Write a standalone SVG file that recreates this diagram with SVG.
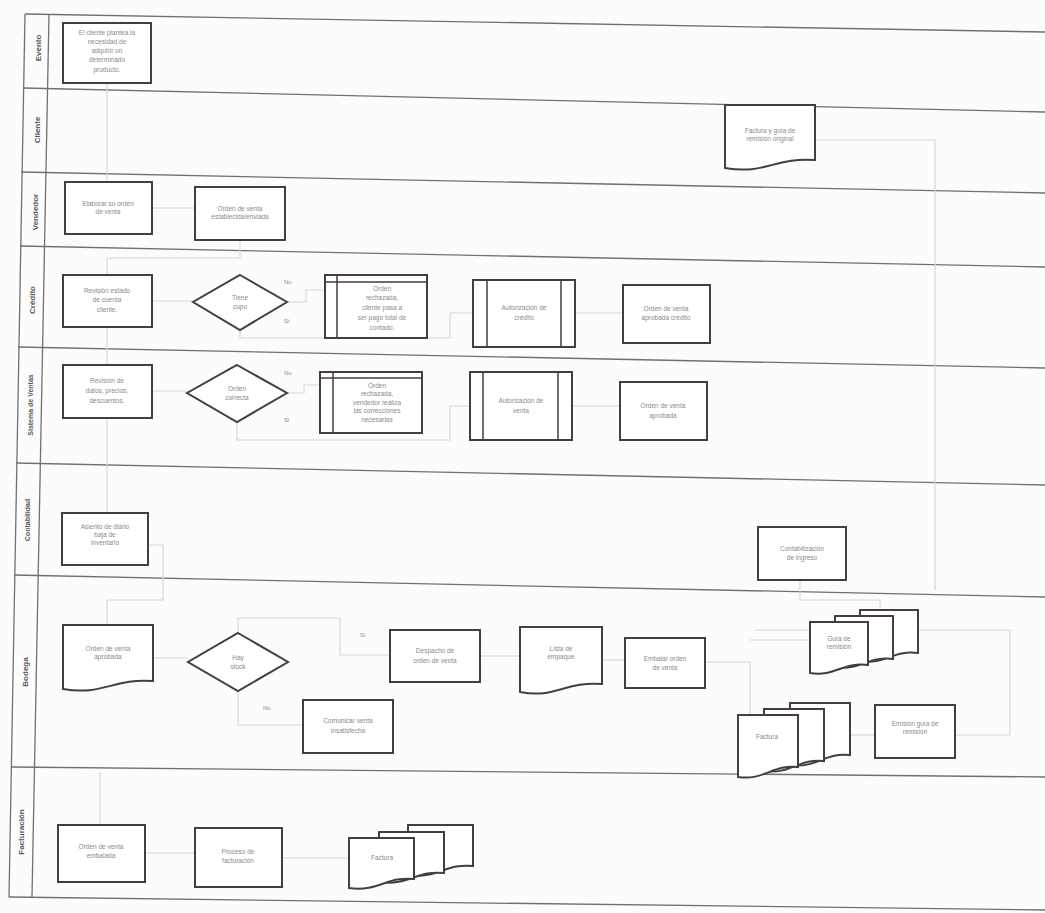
<svg xmlns="http://www.w3.org/2000/svg" xmlns:xlink="http://www.w3.org/1999/xlink" width="1045" height="913" viewBox="0 0 1045 913">
<style>
.lane{fill:none;stroke:#707070;stroke-width:1.3}
.node{fill:#fff;stroke:#463e3e;stroke-width:2}
.thin{fill:none;stroke:#463e3e;stroke-width:1.5}
.t{font-family:"Liberation Sans",Arial,sans-serif;font-size:6.5px;fill:#8a8a8a;text-anchor:middle}
.lbl{font-family:"Liberation Sans",Arial,sans-serif;font-size:8px;fill:#5a5a5a;text-anchor:middle;font-weight:bold}
.conn{fill:none;stroke:#d2d8de;stroke-width:1.2}
.yn{font-family:"Liberation Sans",Arial,sans-serif;font-size:6px;fill:#8a8a8a}
</style>
<defs>
<path id="sheetG" d="M0,0 H58 V43 C32,40 25,55 0,51 Z"/>
<path id="sheetF" d="M0,0 H60 V52 C35,49 26,66 0,62 Z"/>
<path id="sheetH" d="M0,0 H65 V41 C38,38 30,54 0,50 Z"/>
</defs>
<rect x="0" y="0" width="1045" height="913" fill="#fcfcfc"/>

<g id="lanes">
<line class="lane" x1="25" y1="14" x2="1045" y2="32"/>
<line class="lane" x1="23" y1="88" x2="1045" y2="112"/>
<line class="lane" x1="21" y1="172" x2="1045" y2="193"/>
<line class="lane" x1="20" y1="246" x2="1045" y2="267"/>
<line class="lane" x1="18" y1="347" x2="1045" y2="368"/>
<line class="lane" x1="16" y1="463" x2="1045" y2="485"/>
<line class="lane" x1="14" y1="575" x2="1045" y2="597"/>
<line class="lane" x1="11" y1="767" x2="1045" y2="777"/>
<line class="lane" x1="9" y1="897" x2="1045" y2="910"/>
<line class="lane" x1="25" y1="14" x2="9" y2="897"/>
<line class="lane" x1="49" y1="14" x2="32" y2="897"/>
<text class="lbl" transform="translate(38,48) rotate(-90)" dy="3">Evento</text>
<text class="lbl" transform="translate(37,130) rotate(-90)" dy="3">Cliente</text>
<text class="lbl" transform="translate(35,212) rotate(-90)" dy="3">Vendedor</text>
<text class="lbl" transform="translate(32,300) rotate(-90)" dy="3">Crédito</text>
<text class="lbl" transform="translate(30,405) rotate(-90)" dy="3" style="font-size:7px">Sistema de Ventas</text>
<text class="lbl" transform="translate(27,520) rotate(-90)" dy="3" style="font-size:7px">Contabilidad</text>
<text class="lbl" transform="translate(25,672) rotate(-90)" dy="3">Bodega</text>
<text class="lbl" transform="translate(21,832) rotate(-90)" dy="3">Facturación</text>
</g>

<g id="connectors">
<path class="conn" d="M107,83 V182"/>
<path class="conn" d="M152,208 H195"/>
<path class="conn" d="M240,240 V258 H107 V275"/>
<path class="conn" d="M152,301 H193"/>
<path class="conn" d="M287,302 H306 V290 H325"/>
<path class="conn" d="M240,330 V338 H450 V313 H473"/>
<path class="conn" d="M575,313 H623"/>
<path class="conn" d="M107,327 V365"/>
<path class="conn" d="M152,391 H187"/>
<path class="conn" d="M287,393 H304 V385 H320"/>
<path class="conn" d="M237,422 V440 H450 V406 H470"/>
<path class="conn" d="M572,406 H620"/>
<path class="conn" d="M107,418 V513"/>
<path class="conn" d="M148,545 H163 V600 H107 V625"/>
<path class="conn" d="M153,658 H188"/>
<path class="conn" d="M238,633 V618 H340 V655 H390"/>
<path class="conn" d="M238,691 V725 H303"/>
<path class="conn" d="M480,656 H520"/>
<path class="conn" d="M602,660 H625"/>
<path class="conn" d="M705,662 H750 V740 H738"/>
<path class="conn" d="M750,640 H810"/>
<path class="conn" d="M755,630 H1010 V735 H955"/>
<path class="conn" d="M848,735 H875"/>
<path class="conn" d="M800,580 V600 H880 V610"/>
<path class="conn" d="M815,140 H935 V590"/>
<path class="conn" d="M100,772 V825"/>
<path class="conn" d="M145,853 H195"/>
<path class="conn" d="M282,858 H349"/>
<text class="yn" x="284" y="284">No</text>
<text class="yn" x="284" y="323">Si</text>
<text class="yn" x="284" y="375">No</text>
<text class="yn" x="284" y="422">Si</text>
<text class="yn" x="360" y="637">Si</text>
<text class="yn" x="263" y="710">No</text>
</g>

<g id="n1">
<rect class="node" x="63" y="23" width="88" height="60"/>
<text class="t" x="107" y="35">El cliente plantea la</text>
<text class="t" x="107" y="44">necesidad de</text>
<text class="t" x="107" y="53">adquirir un</text>
<text class="t" x="107" y="62">determinado</text>
<text class="t" x="107" y="72">producto.</text>
</g>
<g id="n2">
<path class="node" d="M725,105 H815 V160 C775,157 765,175 725,168 Z"/>
<text class="t" x="770" y="133">Factura y guía de</text>
<text class="t" x="770" y="141">remisión original</text>
</g>
<g id="n3">
<rect class="node" x="65" y="182" width="87" height="52"/>
<text class="t" x="108" y="206">Elaborar su orden</text>
<text class="t" x="108" y="214">de venta</text>
</g>
<g id="n4">
<rect class="node" x="195" y="187" width="90" height="53"/>
<text class="t" x="240" y="211">Orden de venta</text>
<text class="t" x="240" y="219">establecida/enviada</text>
</g>
<g id="n5">
<rect class="node" x="63" y="275" width="89" height="52"/>
<text class="t" x="107" y="293">Revisión estado</text>
<text class="t" x="107" y="302">de cuenta</text>
<text class="t" x="107" y="312">cliente.</text>
</g>
<g id="n6">
<path class="node" d="M240,275 L287,302 L240,330 L193,302 Z"/>
<text class="t" x="240" y="300">Tiene</text>
<text class="t" x="240" y="309">cupo</text>
</g>
<g id="n7">
<rect class="node" x="325" y="275" width="102" height="63"/>
<path class="thin" d="M325,282 H427 M337,275 V338"/>
<text class="t" x="382" y="291">Orden</text>
<text class="t" x="382" y="300">rechazada,</text>
<text class="t" x="382" y="310">cliente pasa a</text>
<text class="t" x="382" y="320">ser pago total de</text>
<text class="t" x="382" y="330">contado.</text>
</g>
<g id="n8">
<rect class="node" x="473" y="280" width="102" height="67"/>
<path class="thin" d="M487,280 V347 M561,280 V347"/>
<text class="t" x="524" y="310">Autorización de</text>
<text class="t" x="524" y="320">crédito</text>
</g>
<g id="n9">
<rect class="node" x="623" y="285" width="87" height="58"/>
<text class="t" x="666" y="311">Orden de venta</text>
<text class="t" x="666" y="320">aprobada crédito</text>
</g>
<g id="n10">
<rect class="node" x="63" y="365" width="89" height="53"/>
<text class="t" x="107" y="383">Revisión de</text>
<text class="t" x="107" y="393">datos, precios,</text>
<text class="t" x="107" y="403">descuentos.</text>
</g>
<g id="n11">
<path class="node" d="M237,365 L287,393 L237,422 L187,393 Z"/>
<text class="t" x="237" y="391">Orden</text>
<text class="t" x="237" y="400">correcta</text>
</g>
<g id="n12">
<rect class="node" x="320" y="372" width="102" height="61"/>
<path class="thin" d="M320,378 H422 M333,372 V433"/>
<text class="t" x="377" y="388">Orden</text>
<text class="t" x="377" y="396">rechazada,</text>
<text class="t" x="377" y="405">vendedor realiza</text>
<text class="t" x="377" y="413">las correcciones</text>
<text class="t" x="377" y="422">necesarias</text>
</g>
<g id="n13">
<rect class="node" x="470" y="372" width="102" height="68"/>
<path class="thin" d="M483,372 V440 M558,372 V440"/>
<text class="t" x="521" y="403">Autorización de</text>
<text class="t" x="521" y="413">venta</text>
</g>
<g id="n14">
<rect class="node" x="620" y="382" width="87" height="58"/>
<text class="t" x="663" y="408">Orden de venta</text>
<text class="t" x="663" y="418">aprobada</text>
</g>
<g id="n15">
<rect class="node" x="62" y="513" width="86" height="52"/>
<text class="t" x="105" y="529">Asiento de diario</text>
<text class="t" x="105" y="537">baja de</text>
<text class="t" x="105" y="545">inventario</text>
</g>
<g id="n16">
<rect class="node" x="758" y="527" width="88" height="53"/>
<text class="t" x="802" y="551">Contabilización</text>
<text class="t" x="802" y="560">de ingreso</text>
</g>
<g id="n17">
<path class="node" d="M63,625 H153 V681 C113,678 103,696 63,689 Z"/>
<text class="t" x="108" y="651">Orden de venta</text>
<text class="t" x="108" y="659">aprobada</text>
</g>
<g id="n18">
<path class="node" d="M238,633 L288,662 L238,691 L188,662 Z"/>
<text class="t" x="238" y="660">Hay</text>
<text class="t" x="238" y="669">stock</text>
</g>
<g id="n19">
<rect class="node" x="390" y="630" width="90" height="52"/>
<text class="t" x="435" y="653">Despacho de</text>
<text class="t" x="435" y="663">orden de venta</text>
</g>
<g id="n20">
<rect class="node" x="303" y="700" width="90" height="53"/>
<text class="t" x="348" y="723">Comunicar venta</text>
<text class="t" x="348" y="733">insatisfecha</text>
</g>
<g id="n21">
<path class="node" d="M520,627 H602 V684 C565,681 555,699 520,692 Z"/>
<text class="t" x="561" y="651">Lista de</text>
<text class="t" x="561" y="659">empaque</text>
</g>
<g id="n22">
<rect class="node" x="625" y="638" width="80" height="50"/>
<text class="t" x="665" y="661">Embalar orden</text>
<text class="t" x="665" y="670">de venta</text>
</g>
<g id="n23">
<use href="#sheetG" x="860" y="610" class="node"/>
<use href="#sheetG" x="835" y="616" class="node"/>
<use href="#sheetG" x="810" y="622" class="node"/>
<text class="t" x="839" y="641">Guía de</text>
<text class="t" x="839" y="649">remisión</text>
</g>
<g id="n24">
<use href="#sheetF" x="790" y="703" class="node"/>
<use href="#sheetF" x="764" y="709" class="node"/>
<use href="#sheetF" x="738" y="715" class="node"/>
<text class="t" x="767" y="739">Factura</text>
</g>
<g id="n25">
<rect class="node" x="875" y="705" width="80" height="53"/>
<text class="t" x="915" y="726">Emisión guía de</text>
<text class="t" x="915" y="734">remisión</text>
</g>
<g id="n26">
<rect class="node" x="58" y="825" width="87" height="57"/>
<text class="t" x="101" y="849">Orden de venta</text>
<text class="t" x="101" y="858">embalada</text>
</g>
<g id="n27">
<rect class="node" x="195" y="828" width="87" height="59"/>
<text class="t" x="238" y="854">Proceso de</text>
<text class="t" x="238" y="863">facturación</text>
</g>
<g id="n28">
<use href="#sheetH" x="408" y="825" class="node"/>
<use href="#sheetH" x="379" y="832" class="node"/>
<use href="#sheetH" x="349" y="838" class="node"/>
<text class="t" x="382" y="860">Factura</text>
</g>
</svg>
